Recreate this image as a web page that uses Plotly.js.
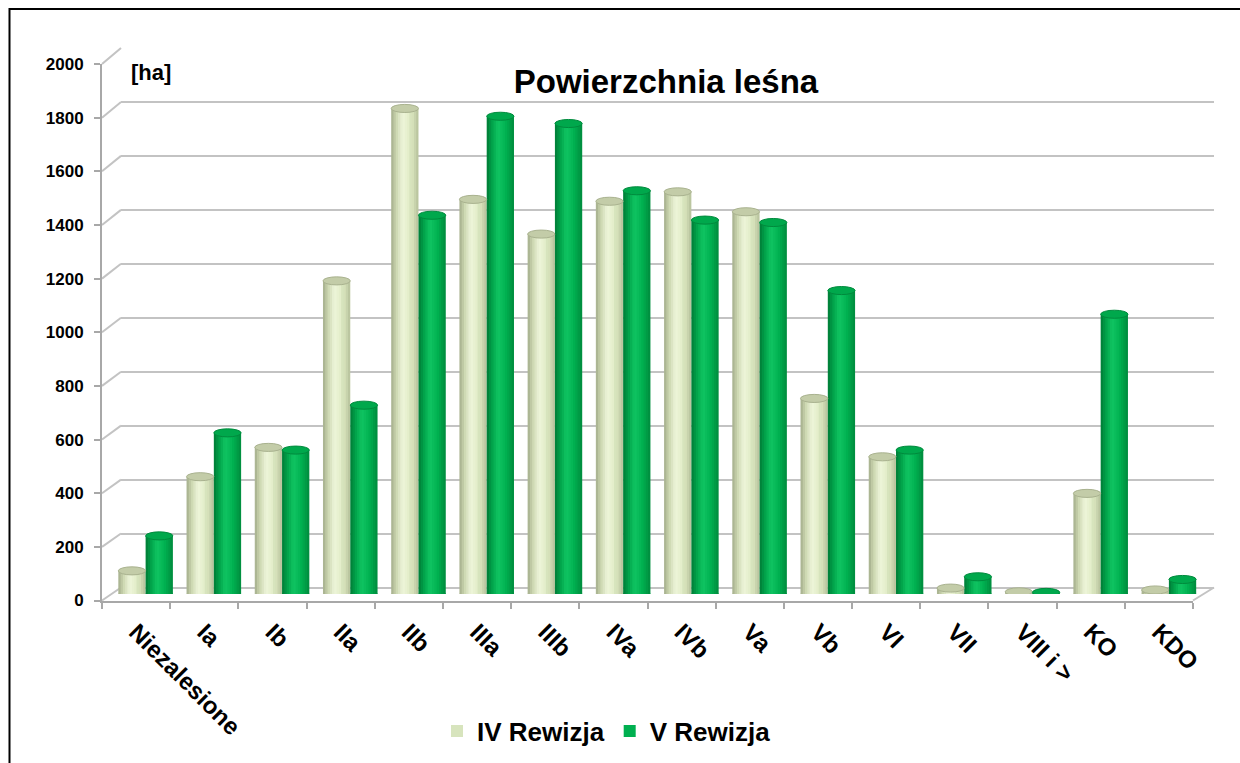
<!DOCTYPE html>
<html><head><meta charset="utf-8">
<script src="https://cdn.plot.ly/plotly-3.0.1.min.js"></script>
<style>html,body{margin:0;padding:0;background:#fff}#chart{width:1240px;height:763px}</style>
</head><body><div id="chart"></div>
<script>
// ---- data ----
const categories = ['Niezalesione','Ia','Ib','IIa','IIb','IIIa','IIIb','IVa','IVb','Va','Vb','VI','VII','VIII i >','KO','KDO'];
const ivRewizja = [86, 436, 545, 1164, 1805, 1467, 1338, 1460, 1495, 1421, 727, 510, 22, 8, 374, 15];
const vRewizja  = [216, 599, 535, 702, 1408, 1776, 1749, 1499, 1390, 1381, 1128, 535, 64, 6, 1040, 54];
const seriesNames = ['IV Rewizja', 'V Rewizja'];
const yTicks = [0, 200, 400, 600, 800, 1000, 1200, 1400, 1600, 1800, 2000];
const chartTitle = 'Powierzchnia leśna';
const unitLabel = '[ha]';

// ---- geometry / style ----
const W = 1240, H = 763;
const px = x => x / W;
const py = y => (H - y) / H;
const FONT = 'Arial, "Liberation Sans", sans-serif';
const GRID = '#c3c3c3';
const AXC = '#a8a8a8';
const front = {x0: 102, x1: 1193, y0: 600.5, y1: 64};
const back  = {x0: 121, x1: 1214, y0: 587.5, y1: 48};
const mid   = {x0: 111.5, x1: 1203, y0: 594, y1: 56};
const yMax = 2000;

const profiles = [
  {stops: [[0,'#a3ad8a'],[0.18,'#cbd6af'],[0.42,'#eef5da'],[0.72,'#e0ebc4'],[1,'#b5c09a']],
   legend: '#d7e4bd', cap: '#c3cca8', capLine: '#a9b28f', bottom: '#d5e0b8'},
  {stops: [[0,'#007a36'],[0.18,'#00a048'],[0.42,'#10c562'],[0.72,'#00b050'],[1,'#008a3d']],
   legend: '#00b050', cap: '#00a84c', capLine: '#008a3d', bottom: '#00a84c'}
];
function hex(c){return [1,3,5].map(i=>parseInt(c.substr(i,2),16));}
function colorAt(stops,t){
  for(let k=0;k<stops.length-1;k++){
    const [a,ca]=stops[k],[b,cb]=stops[k+1];
    if(t>=a&&t<=b){const f=(t-a)/(b-a);const A=hex(ca),B=hex(cb);
      return 'rgb('+A.map((v,j)=>Math.round(v+(B[j]-v)*f)).join(',')+')';}
  }
  return stops[stops.length-1][1];
}

const N = 12, barW = 0.4, sw = barW / N;
const traces = [];
traces.push({type:'scatter', x: categories, y: ivRewizja, xaxis:'x', yaxis:'y', mode:'markers',
  marker:{opacity:0}, hoverinfo:'skip', showlegend:false});
traces.push({type:'scatter', x: categories, y: vRewizja, xaxis:'x2', yaxis:'y2', mode:'markers',
  marker:{opacity:0}, hoverinfo:'skip', showlegend:false});

const seriesVals = [ivRewizja, vRewizja];
const shapes = [];
seriesVals.forEach((vals, s) => {
  const p = profiles[s];
  const base = s === 0 ? -barW : 0;
  const legendIdx = 8;
  for (let i = 0; i < N; i++) {
    const t = (i + 0.5) / N;
    traces.push({
      type:'bar', x: categories, y: vals, xaxis:'x3', yaxis:'y3',
      width: (i < N-1 ? sw*1.4 : sw), offset: base + i*sw,
      marker:{color: i === legendIdx ? p.legend : colorAt(p.stops, t), line:{width:0}},
      name: seriesNames[s], legendgroup: 'g'+s, showlegend: i === legendIdx,
      hoverinfo:'skip'
    });
  }
  vals.forEach((v, c) => {
    shapes.push({type:'circle', xref:'x3', yref:'y3', layer:'between',
      x0: c + base, x1: c + base + barW, y0: -14, y1: 14,
      fillcolor: p.bottom, line:{width:0}});
    shapes.push({type:'circle', xref:'x3', yref:'y3', layer:'above',
      x0: c + base, x1: c + base + barW, y0: v - 15, y1: v + 15,
      fillcolor: p.cap, line:{width:1, color: p.capLine}});
  });
});

const yF = v => py(front.y0 - v*(front.y0-front.y1)/yMax);
const yB = v => py(back.y0 - v*(back.y0-back.y1)/yMax);
yTicks.forEach(v => {
  shapes.push({type:'line', xref:'paper', yref:'paper', x0: px(front.x0), x1: px(back.x0),
    y0: yF(v), y1: yB(v), line:{color: GRID, width: 2}, layer:'below'});
});
shapes.push({type:'line', xref:'paper', yref:'paper', x0: px(front.x1), x1: px(back.x1),
  y0: yF(0), y1: yB(0), line:{color: GRID, width: 2}, layer:'below'});
shapes.push({type:'path', xref:'paper', yref:'paper', layer:'above',
  path: 'M '+px(9.5)+' '+py(800)+' L '+px(9.5)+' '+py(9)+' L '+px(1260)+' '+py(9),
  line:{color:'#000', width:2}});

const layout = {
  width: W, height: H,
  margin:{l:0, r:0, t:0, b:0},
  paper_bgcolor:'#fff', plot_bgcolor:'rgba(0,0,0,0)',
  barmode:'overlay',
  showlegend: true,
  font:{family: FONT, color:'#000'},
  title:{text: chartTitle, font:{family: FONT, size: 33, weight:'bold', color:'#000'},
    x: px(666), xanchor:'center', xref:'paper', y: py(81), yanchor:'middle', yref:'container'},
  xaxis:{type:'category', domain:[px(front.x0), px(front.x1)], anchor:'y', range:[-0.5, 15.5],
    categoryorder:'array', categoryarray: categories,
    showline:true, linecolor: AXC, linewidth:2, showgrid:false, zeroline:false,
    ticks:'outside', tickson:'boundaries', ticklen:6, tickwidth:2, tickcolor: AXC,
    tickangle:45, ticklabelstandoff: 6,
    tickfont:{family: FONT, size: 24, weight:'bold', color:'#000'}},
  yaxis:{domain:[py(front.y0), py(front.y1)], anchor:'x', range:[0, yMax],
    tickvals: yTicks, showline:true, linecolor: AXC, linewidth:2, showgrid:false, zeroline:false,
    ticks:'outside', ticklen:6, tickwidth:2, tickcolor: AXC, ticklabelstandoff: 7,
    tickfont:{family: FONT, size: 17, weight:'bold', color:'#000'}},
  xaxis2:{type:'category', domain:[px(back.x0), px(back.x1)], anchor:'y2', range:[-0.5, 15.5],
    categoryorder:'array', categoryarray: categories,
    showline:false, showgrid:false, zeroline:false, showticklabels:false, ticks:''},
  yaxis2:{domain:[py(back.y0), py(back.y1)], anchor:'x2', range:[0, yMax],
    tickvals: yTicks, showline:false, showgrid:true, gridcolor: GRID, gridwidth:2,
    zeroline:true, zerolinecolor: GRID, zerolinewidth:2, showticklabels:false, ticks:''},
  xaxis3:{type:'category', domain:[px(mid.x0), px(mid.x1)], anchor:'y3', range:[-0.5, 15.5],
    categoryorder:'array', categoryarray: categories, visible:false},
  yaxis3:{domain:[py(mid.y0), py(mid.y1)], anchor:'x3', range:[0, yMax], visible:false},
  legend:{orientation:'h', x: px(606.5), xanchor:'center', y: py(731), yanchor:'middle',
    font:{family: FONT, size: 26, weight:'bold', color:'#000'},
    bgcolor:'rgba(0,0,0,0)', traceorder:'normal', itemwidth:30},
  annotations:[{text: unitLabel, xref:'paper', yref:'paper', x: px(129), y: py(73),
    xanchor:'left', yanchor:'middle', showarrow:false,
    font:{family: FONT, size: 22, weight:'bold', color:'#000'}}],
  shapes: shapes
};
Plotly.newPlot('chart', traces, layout, {staticPlot:true, displayModeBar:false});
</script>
</body></html>
